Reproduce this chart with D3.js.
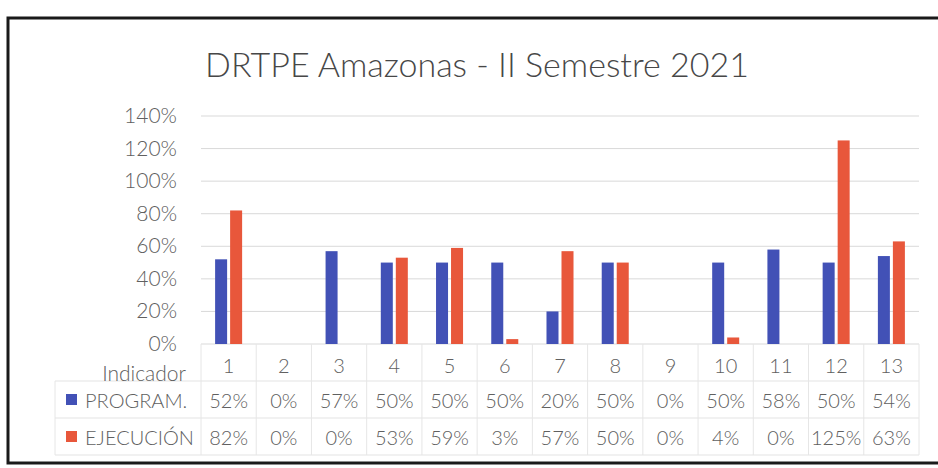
<!DOCTYPE html>
<html>
<head>
<meta charset="utf-8">
<script src="https://cdn.jsdelivr.net/npm/d3@7"></script>
<style>
  body { margin: 0; background: #fff; }
  svg { display: block; font-family: Lato, "Noto Sans", sans-serif; font-weight: 300; }
</style>
</head>
<body>
<script>
// Width and height
var w = 938;
var h = 468;

var categories = ["1","2","3","4","5","6","7","8","9","10","11","12","13"];
var seriesNames = ["PROGRAM.", "EJECUCIÓN"];
var program = [52, 0, 57, 50, 50, 50, 20, 50, 0, 50, 58, 50, 54];
var ejecucion = [82, 0, 0, 53, 59, 3, 57, 50, 0, 4, 0, 125, 63];
var yTicks = [0, 20, 40, 60, 80, 100, 120, 140];
var colors = ["#4251b6", "#e8573b"];
var series = [program, ejecucion];

var plotLeft = 201, plotRight = 919;
var textColor = "#606060";

var xScale = d3.scaleBand()
    .domain(categories)
    .range([plotLeft, plotRight]);

var xInner = d3.scaleBand()
    .domain(d3.range(series.length))
    .range([0, xScale.bandwidth()])
    .paddingInner(0.2)
    .paddingOuter(0.94);

var yScale = d3.scaleLinear()
    .domain([0, 140])
    .range([344, 116]);

var svg = d3.select("body")
    .append("svg")
    .attr("width", w)
    .attr("height", h);

// frame
svg.append("rect")
    .attr("x", 8)
    .attr("y", 18)
    .attr("width", 940)
    .attr("height", 445)
    .attr("fill", "none")
    .attr("stroke", "#1a1a1a")
    .attr("stroke-width", 3);

// title
svg.append("text")
    .attr("x", 477)
    .attr("y", 77)
    .attr("text-anchor", "middle")
    .attr("font-size", "34px")
    .attr("fill", "#474747")
    .text("DRTPE Amazonas - II Semestre 2021");

// gridlines
svg.selectAll("line.grid")
    .data(yTicks)
    .enter()
    .append("line")
    .attr("class", "grid")
    .attr("x1", plotLeft)
    .attr("x2", plotRight)
    .attr("y1", d => yScale(d))
    .attr("y2", d => yScale(d))
    .attr("stroke", "#d9d9d9")
    .attr("stroke-width", 1);

// y tick labels
svg.selectAll("text.ytick")
    .data(yTicks)
    .enter()
    .append("text")
    .attr("class", "ytick")
    .attr("x", 177)
    .attr("y", d => yScale(d) + 7)
    .attr("text-anchor", "end")
    .attr("font-size", "21px")
    .attr("fill", textColor)
    .text(d => d + "%");

// bars
var groups = svg.selectAll("g.series")
    .data(series)
    .enter()
    .append("g")
    .attr("class", "series")
    .attr("fill", (d, i) => colors[i]);

groups.each(function(vals, si) {
    d3.select(this).selectAll("rect")
        .data(vals)
        .enter()
        .append("rect")
        .attr("x", (d, i) => xScale(categories[i]) + xInner(si))
        .attr("y", d => yScale(d))
        .attr("width", xInner.bandwidth())
        .attr("height", d => yScale(0) - yScale(d));
});

// data table
var tableLeft = 55;
var rowLines = [381, 418, 455];
var rowY = [373, 408, 445];

svg.selectAll("line.hrow")
    .data(rowLines)
    .enter()
    .append("line")
    .attr("class", "hrow")
    .attr("x1", tableLeft)
    .attr("x2", plotRight)
    .attr("y1", d => d)
    .attr("y2", d => d)
    .attr("stroke", "#e3e3e3");

svg.selectAll("line.vcol")
    .data(categories.concat(["end"]))
    .enter()
    .append("line")
    .attr("class", "vcol")
    .attr("x1", (d, i) => plotLeft + i * xScale.step())
    .attr("x2", (d, i) => plotLeft + i * xScale.step())
    .attr("y1", yScale(0))
    .attr("y2", rowLines[2])
    .attr("stroke", "#e6e6e6");

svg.append("line")
    .attr("x1", tableLeft)
    .attr("x2", tableLeft)
    .attr("y1", rowLines[0])
    .attr("y2", rowLines[2])
    .attr("stroke", "#e6e6e6");

svg.append("text")
    .attr("x", 186)
    .attr("y", 381)
    .attr("text-anchor", "end")
    .attr("font-size", "21px")
    .attr("fill", textColor)
    .text("Indicador");

svg.selectAll("text.cat")
    .data(categories)
    .enter()
    .append("text")
    .attr("class", "cat")
    .attr("x", d => xScale(d) + xScale.bandwidth() / 2)
    .attr("y", rowY[0])
    .attr("text-anchor", "middle")
    .attr("font-size", "20px")
    .attr("fill", textColor)
    .text(d => d);

series.forEach(function(vals, si) {
    var y = rowY[si + 1];
    svg.append("rect")
        .attr("x", 66)
        .attr("y", y - 14)
        .attr("width", 11)
        .attr("height", 11)
        .attr("fill", colors[si]);

    svg.append("text")
        .attr("x", 85)
        .attr("y", y)
        .attr("font-size", "20px")
        .attr("fill", textColor)
        .text(seriesNames[si]);

    svg.selectAll("text.val" + si)
        .data(vals)
        .enter()
        .append("text")
        .attr("class", "val" + si)
        .attr("x", (d, i) => xScale(categories[i]) + xScale.bandwidth() / 2)
        .attr("y", y)
        .attr("text-anchor", "middle")
        .attr("font-size", "20px")
        .attr("fill", textColor)
        .text(d => d + "%");
});
</script>
</body>
</html>
